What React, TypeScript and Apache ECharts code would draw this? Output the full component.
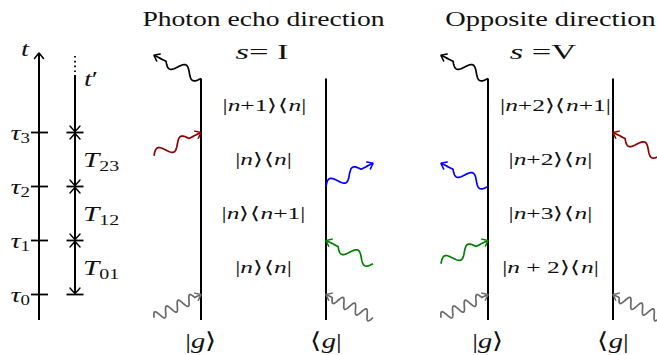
import React, { useEffect, useRef } from "react";
import * as echarts from "echarts";

// ---------------- data ----------------
const tauLevels = [0, 1, 2, 3];
const tauSubscripts = ["0", "1", "2", "3"];
const intervalSubscripts = ["01", "12", "23"];
const panelTitles = ["Photon echo direction", "Opposite direction"];
const panelSigns = ["s= I", "s =V"];
// density-matrix states between interactions, bottom to top
const echoStates = ["|n⟩⟨n|", "|n⟩⟨n+1|", "|n⟩⟨n|", "|n+1⟩⟨n|"];
const oppositeStates = ["|n + 2⟩⟨n|", "|n+3⟩⟨n|", "|n+2⟩⟨n|", "|n+2⟩⟨n+1|"];
const braKetLabels = ["|g⟩", "⟨g|"];
// interactions: time index (4 = emitted signal), side, in/out
const echoTimes = [0, 0, 1, 2, 3, 4];
const echoSides = ["ket", "bra", "bra", "bra", "ket", "ket"];
const echoDirs = ["in", "in", "in", "out", "in", "out"];
const oppositeTimes = [0, 0, 1, 2, 3, 4];
const oppositeSides = ["ket", "bra", "ket", "ket", "bra", "ket"];
const oppositeDirs = ["in", "in", "in", "out", "in", "out"];
const photonColors = ["#6a6a6a", "#008000", "#0000ff", "#8b0000", "#000000"];

// ---------------- layout ----------------
const W = 657;
const H = 355;
const PX_PER_T = 54;
const T0_Y = 294.5;
const yMax = T0_Y / PX_PER_T;
const yMin = (T0_Y - H) / PX_PER_T;
const FONT = "Liberation Serif, serif";
const axisX = 39;
const spanX = 75;
const panelX = [
  [201, 326],
  [488, 613],
];
const signCenters = [262, 543];
const stateShift = [
  [0, 0, 0, 1],
  [0, 0, 0, 5],
];
const lineTop = 4;
const lineBottom = -0.47;
const photonDx = 47;
const photonDt = 0.43;
const tOf = (y: number) => (T0_Y - y) / PX_PER_T;

type Photon = { x: number; t: number; ox: number; ot: number; dir: string; color: string; gray: boolean };

function buildPhotons(panel: number, times: number[], sides: string[], dirs: string[]): Photon[] {
  return times.map((t, i) => {
    const ket = sides[i] === "ket";
    const x = panelX[panel][ket ? 0 : 1];
    const tt = t === 4 ? lineTop : tauLevels[t];
    return {
      x,
      t: tt,
      ox: x + (ket ? -photonDx : photonDx),
      ot: tt + (dirs[i] === "in" ? -photonDt : photonDt),
      dir: dirs[i],
      color: photonColors[t],
      gray: t === 0,
    };
  });
}

const photons: Photon[] = [
  ...buildPhotons(0, echoTimes, echoSides, echoDirs),
  ...buildPhotons(1, oppositeTimes, oppositeSides, oppositeDirs),
];

// split into rich tokens: math letters italic, everything else roman
function toRich(s: string): string {
  let out = "";
  let run = "";
  for (const ch of s) {
    if (/[ngsτtT]/.test(ch)) {
      if (run) out += `{r|${run}}`;
      run = "";
      out += `{i|${ch}}`;
    } else run += ch;
  }
  if (run) out += `{r|${run}}`;
  return out;
}

type TextSpec = { x: number; t: number; text: string; size: number; sx: number; align: string };

const texts: TextSpec[] = [];
panelTitles.forEach((title, p) => {
  const cx = (panelX[p][0] + panelX[p][1]) / 2;
  texts.push({ x: cx, t: tOf(19.5), text: `{r|${title}}`, size: 20, sx: p === 0 ? 1.38 : 1.42, align: "center" });
  texts.push({ x: signCenters[p], t: tOf(51.5), text: toRich(panelSigns[p]), size: 21, sx: 1.65, align: "center" });
  const states = p === 0 ? echoStates : oppositeStates;
  const levels = [...tauLevels, lineTop];
  states.forEach((s, k) => {
    texts.push({
      x: cx + stateShift[p][k],
      t: (levels[k] + levels[k + 1]) / 2,
      text: toRich(s),
      size: 17,
      sx: 1.5,
      align: "center",
    });
  });
  braKetLabels.forEach((s, k) => {
    texts.push({ x: panelX[p][k], t: tOf(341), text: toRich(s), size: 22, sx: 1.3, align: "center" });
  });
});
tauLevels.forEach((t, k) => {
  texts.push({ x: 30, t, text: `{i|τ}{sub|${tauSubscripts[k]}}`, size: 21, sx: 1.35, align: "right" });
});
intervalSubscripts.forEach((s, k) => {
  texts.push({
    x: 83,
    t: (tauLevels[k] + tauLevels[k + 1]) / 2,
    text: `{i|T}{sub|${s}}`,
    size: 22,
    sx: 1.33,
    align: "left",
  });
});
texts.push({ x: 25, t: tOf(49), text: "{i|t}", size: 22, sx: 1.3, align: "center" });
texts.push({ x: 91, t: tOf(79), text: "{i|t}{r|′}", size: 22, sx: 1.3, align: "center" });

// ---------------- drawing helpers ----------------
function wavePoints(p0: number[], p1: number[], lambda: number, amp: number, straight: number) {
  const dx = p1[0] - p0[0];
  const dy = p1[1] - p0[1];
  const L = Math.hypot(dx, dy);
  const ux = dx / L;
  const uy = dy / L;
  const nx = uy;
  const ny = -ux;
  const half = lambda / 2;
  const Lw = Math.floor((L - straight) / half) * half;
  const pts: number[][] = [];
  const N = 90;
  for (let i = 0; i <= N; i++) {
    const s = (L * i) / N;
    const off = s <= Lw ? amp * Math.sin((2 * Math.PI * s) / lambda) : 0;
    pts.push([p0[0] + ux * s + nx * off, p0[1] + uy * s + ny * off]);
  }
  return pts;
}

function arrowHead(tip: number[], from: number[], len: number, hw: number, stroke: string, lw: number) {
  const dx = tip[0] - from[0];
  const dy = tip[1] - from[1];
  const L = Math.hypot(dx, dy);
  const ux = dx / L;
  const uy = dy / L;
  const nx = -uy;
  const ny = ux;
  const bx = tip[0] - ux * len;
  const by = tip[1] - uy * len;
  return {
    type: "polyline",
    shape: {
      points: [
        [bx + nx * hw, by + ny * hw],
        [tip[0] - ux * 1.2 + nx * hw * 0.25, tip[1] - uy * 1.2 + ny * hw * 0.25],
        [tip[0], tip[1]],
        [tip[0] - ux * 1.2 - nx * hw * 0.25, tip[1] - uy * 1.2 - ny * hw * 0.25],
        [bx - nx * hw, by - ny * hw],
      ],
      smooth: 0.3,
    },
    style: { stroke, lineWidth: lw, fill: "none", lineCap: "round", lineJoin: "round" },
  };
}

const worldLines = panelX.flat().map((x) => [x, lineBottom, lineTop]);

function buildOption() {
  return {
    animation: false,
    grid: { left: 0, right: 0, top: 0, bottom: 0 },
    xAxis: { type: "value", min: 0, max: W, show: false },
    yAxis: { type: "value", min: yMin, max: yMax, show: false },
    series: [
      {
        type: "custom",
        name: "worldlines",
        clip: false,
        data: worldLines,
        renderItem: (params: any, api: any) => {
          const w = worldLines[params.dataIndex];
          const a = api.coord([w[0], w[1]]);
          const b = api.coord([w[0], w[2]]);
          return {
            type: "line",
            shape: { x1: a[0], y1: a[1], x2: b[0], y2: b[1] },
            style: { stroke: "#000", lineWidth: 2 },
          };
        },
      },
      {
        type: "custom",
        name: "time axis",
        clip: false,
        data: [[axisX, 0]],
        renderItem: (_params: any, api: any) => {
          const children: any[] = [];
          const bot = api.coord([axisX, lineBottom]);
          const tip = api.coord([axisX, tOf(53)]);
          children.push({
            type: "line",
            shape: { x1: bot[0], y1: bot[1], x2: tip[0], y2: tip[1] + 1 },
            style: { stroke: "#000", lineWidth: 2 },
          });
          children.push(arrowHead(tip, [tip[0], tip[1] + 10], 5.5, 4.5, "#000", 1.5));
          tauLevels.forEach((t) => {
            const p = api.coord([axisX, t]);
            children.push({
              type: "line",
              shape: { x1: p[0] - 8, y1: p[1], x2: p[0] + 9, y2: p[1] },
              style: { stroke: "#000", lineWidth: 1.8 },
            });
            const q = api.coord([spanX, t]);
            children.push({
              type: "line",
              shape: { x1: q[0] - 8.5, y1: q[1], x2: q[0] + 8.5, y2: q[1] },
              style: { stroke: "#000", lineWidth: 1.8 },
            });
            children.push(arrowHead([q[0], q[1] - 1], [q[0], q[1] - 20], 5.5, 5, "#000", 1.4));
            if (t > 0) {
              children.push(arrowHead([q[0], q[1] + 1], [q[0], q[1] + 20], 5.5, 5, "#000", 1.4));
            }
          });
          const s0 = api.coord([spanX, 0]);
          const s1 = api.coord([spanX, tOf(75)]);
          children.push({
            type: "line",
            shape: { x1: s0[0], y1: s0[1] - 1, x2: s1[0], y2: s1[1] },
            style: { stroke: "#000", lineWidth: 2 },
          });
          const d0 = api.coord([spanX, tOf(72)]);
          const d1 = api.coord([spanX, tOf(54)]);
          children.push({
            type: "line",
            shape: { x1: d0[0], y1: d0[1], x2: d1[0], y2: d1[1] },
            style: { stroke: "#000", lineWidth: 1.8, lineDash: [1.6, 3.2] },
          });
          return { type: "group", children };
        },
      },
      {
        type: "custom",
        name: "photons",
        clip: false,
        data: photons.map((p) => [p.x, p.t]),
        renderItem: (params: any, api: any) => {
          const p = photons[params.dataIndex];
          const line = api.coord([p.x, p.t]);
          const outer = api.coord([p.ox, p.ot]);
          const p0 = p.dir === "in" ? outer : line;
          const p1 = p.dir === "in" ? line : outer;
          const pts = p.gray ? wavePoints(p0, p1, 13, 5, 3) : wavePoints(p0, p1, 26, 5.5, 6);
          const prev = pts[pts.length - 8];
          return {
            type: "group",
            children: [
              {
                type: "polyline",
                shape: { points: pts },
                style: { stroke: p.color, lineWidth: 1.7, fill: "none", lineJoin: "round" },
              },
              arrowHead(p1, prev, 5, 4, p.color, 1.5),
            ],
          };
        },
      },
      {
        type: "custom",
        name: "labels",
        clip: false,
        data: texts.map((s) => [s.x, s.t]),
        renderItem: (params: any, api: any) => {
          const s = texts[params.dataIndex];
          const p = api.coord([s.x, s.t]);
          const lh = Math.round(s.size * 1.25);
          const subSize = Math.round(s.size * 0.68);
          const base = { fontFamily: FONT, fontWeight: "normal", fill: "#111" };
          return {
            type: "text",
            x: p[0],
            y: p[1],
            scaleX: s.sx,
            style: {
              text: s.text,
              x: 0,
              y: 0,
              fontSize: s.size,
              ...base,
              fontStyle: "normal",
              align: s.align,
              verticalAlign: "middle",
              rich: {
                r: { ...base, fontSize: s.size, fontStyle: "normal", lineHeight: lh },
                i: { ...base, fontSize: s.size, fontStyle: "italic", lineHeight: lh },
                sub: {
                  ...base,
                  fontSize: subSize,
                  fontStyle: "normal",
                  lineHeight: subSize,
                  verticalAlign: "bottom",
                },
              },
            },
          };
        },
      },
    ],
  };
}

export default function App() {
  const ref = useRef<HTMLDivElement>(null);
  useEffect(() => {
    const chart = echarts.init(ref.current as HTMLDivElement, null, { renderer: "svg" });
    chart.setOption(buildOption() as any);
    return () => chart.dispose();
  }, []);
  return (
    <div
      ref={ref}
      style={{ position: "absolute", left: 0, top: 0, width: W, height: H, background: "#fff" }}
    />
  );
}
